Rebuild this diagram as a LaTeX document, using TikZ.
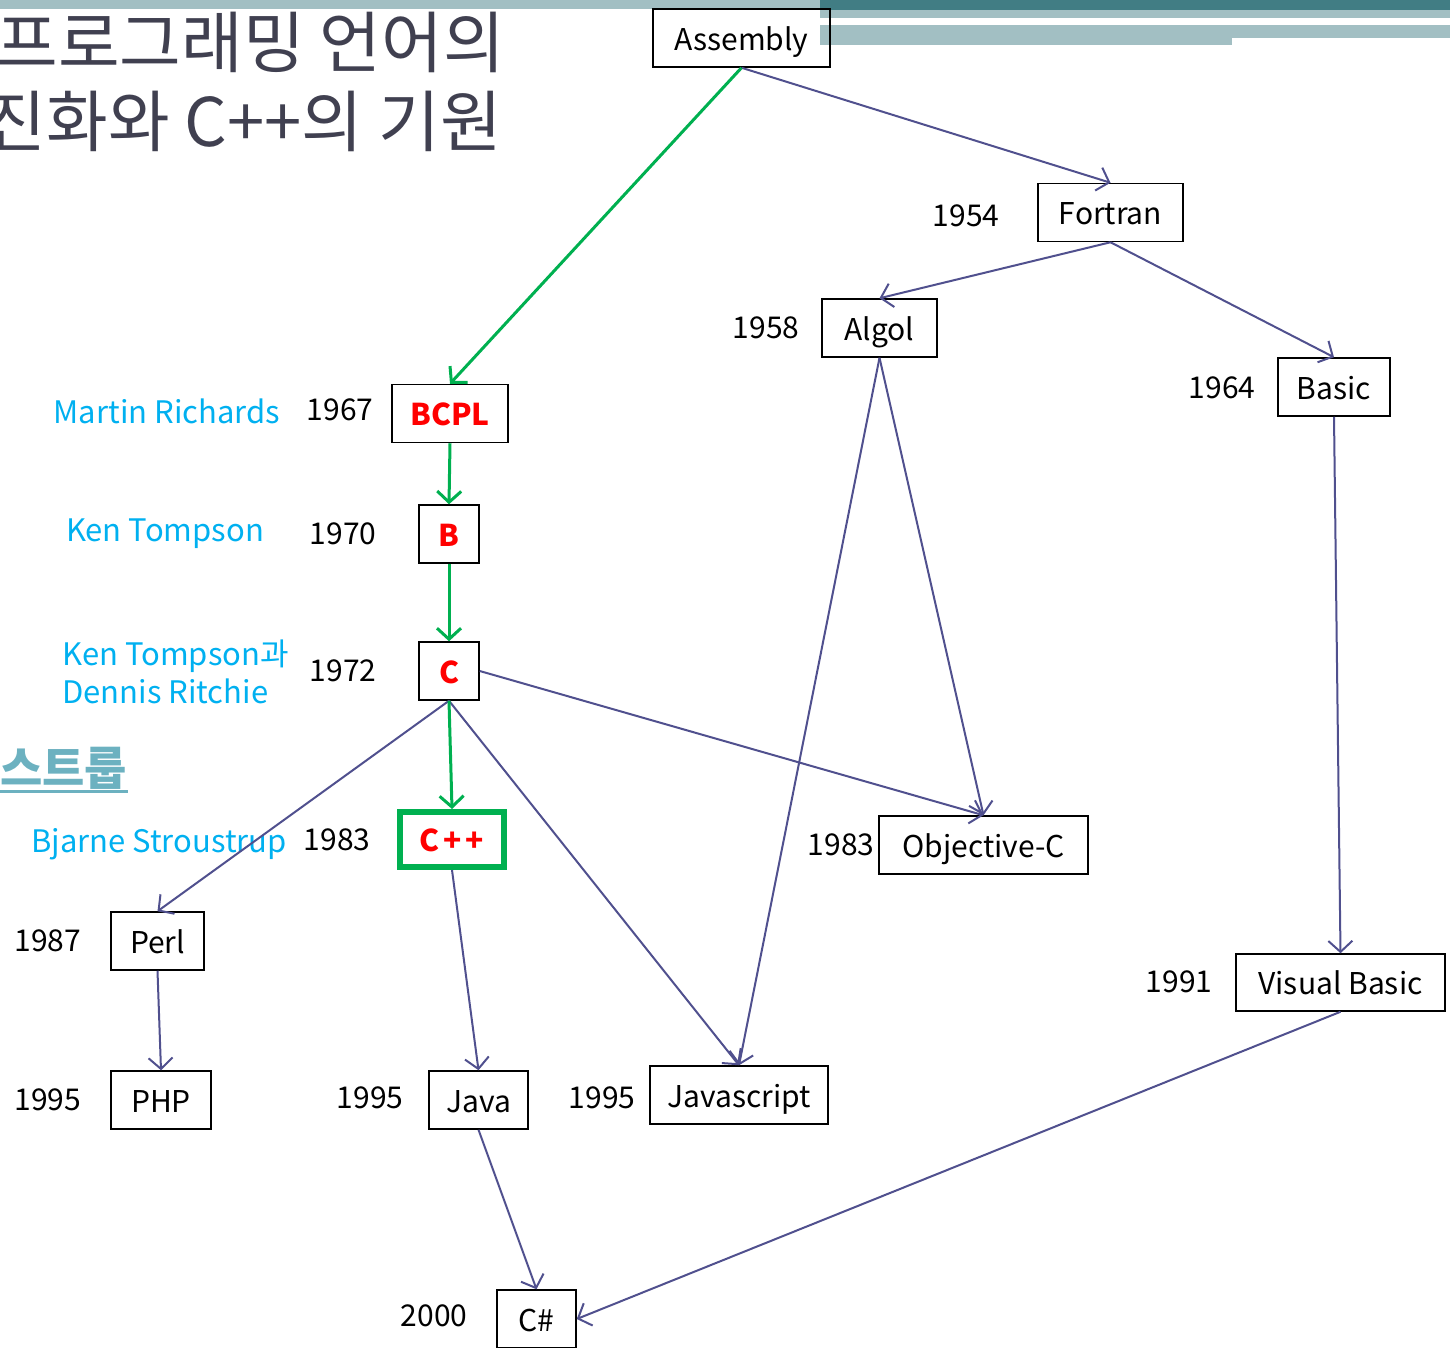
\documentclass[tikz,border=0pt]{standalone}
\usepackage{fontspec}
\setmainfont{Noto Sans CJK KR}
\usetikzlibrary{arrows.meta}
\definecolor{edgeblue}{RGB}{80,80,142}
\definecolor{grn}{RGB}{0,176,80}
\definecolor{cyn}{RGB}{0,176,240}
\definecolor{titlec}{RGB}{64,64,80}
\definecolor{barlight}{RGB}{162,191,195}
\definecolor{bardark}{RGB}{65,125,132}
\definecolor{strup}{RGB}{108,177,192}
\begin{document}
\begin{tikzpicture}[x=1pt,y=-1pt,
 box/.style={draw=black,line width=1.5pt,inner sep=0pt,minimum height=58pt,font=\fontsize{30}{32}\selectfont,text height=24pt,text depth=0pt},
 yr/.style={inner sep=0pt,font=\fontsize{30}{32}\selectfont},
 nm/.style={inner sep=0pt,text=cyn,font=\fontsize{31}{33}\selectfont},
 hot/.style={text=red,font=\fontsize{30}{32}\selectfont\bfseries},
 e/.style={draw=edgeblue,line width=2pt,-{Straight Barb[length=11pt,width=24pt]}},
 g/.style={draw=grn,line width=3pt,-{Straight Barb[length=11pt,width=24pt]}}]
\clip (0,0) rectangle (1450,1347);
\useasboundingbox (0,0) rectangle (1450,1347);
% bars
\fill[barlight] (0,0) rectangle (820,9);
\fill[bardark] (820,0) rectangle (1450,10);
\fill[barlight] (820,10) rectangle (1450,18);
\fill[barlight] (820,25) rectangle (1232,45);
\fill[barlight] (1232,25) rectangle (1450,38);
% title
\node[anchor=base east,inner sep=0pt,text=titlec,font=\fontsize{67}{69}\selectfont] (t1) at (505,67) {프로그래밍 언어의};
\node[anchor=base east,inner sep=0pt,text=titlec,font=\fontsize{67}{69}\selectfont] (t2) at (502,146) {진화와 C++의 기원};
% strup
\node[anchor=base west,inner sep=0pt,text=strup,font=\fontsize{46}{48}\selectfont\bfseries] (st) at (0,785) {스트룹};
\draw[strup,line width=3pt] (0,791) -- (128,791);
% boxes
\node[box,minimum width=177pt] (asm) at (741.5,38) {Assembly};
\node[box,minimum width=145pt] (fort) at (1110.5,212.5) {Fortran};
\node[box,minimum width=115pt] (algol) at (879.5,328) {Algol};
\node[box,minimum width=112pt] (basic) at (1334,387) {Basic};
\node[box,minimum width=116pt,hot] (bcpl) at (450,413.5) {BCPL};
\node[box,minimum width=60pt,hot] (b) at (449,534) {B};
\node[box,minimum width=60pt,hot] (c) at (449,671) {C};
\node[box,draw=grn,line width=6pt,minimum width=104pt,minimum height=55pt,hot] (cpp) at (452,839.5) {C\kern4pt+\kern4pt+};
\node[box,minimum width=209pt] (objc) at (983.5,845) {Objective-C};
\node[box,minimum width=93pt] (perl) at (157.5,941) {Perl};
\node[box,minimum width=209pt,minimum height=57pt] (vb) at (1340.5,982.5) {Visual Basic};
\node[box,minimum width=100pt] (php) at (161,1100) {PHP};
\node[box,minimum width=99pt] (java) at (478.5,1100) {Java};
\node[box,minimum width=178pt] (js) at (739,1095) {Javascript};
\node[box,minimum width=79pt] (cs) at (536.5,1319) {C\#};
% years
\node[yr] (y1) at (966,216) {1954};
\node[yr] (y2) at (766,328) {1958};
\node[yr] (y3) at (1222,388) {1964};
\node[yr] (y4) at (340,410) {1967};
\node[yr] (y5) at (343,534) {1970};
\node[yr] (y6) at (343,671) {1972};
\node[yr] (y7) at (337,840) {1983};
\node[yr] (y8) at (841,845) {1983};
\node[yr] (y9) at (48,941) {1987};
\node[yr] (y10) at (1179,982) {1991};
\node[yr] (y11) at (48,1100) {1995};
\node[yr] (y12) at (370,1098) {1995};
\node[yr] (y13) at (602,1098) {1995};
\node[yr] (y14) at (434,1316) {2000};
% names
\node[nm] (n1) at (167,411) {Martin Richards};
\node[nm] (n2) at (165,534) {Ken Tompson};
\node[nm,anchor=west,align=left] (n3) at (62,672) {Ken Tompson과\\[5pt]Dennis Ritchie};
\node[nm] (n4) at (159,844) {Bjarne Stroustrup};
% edges
\draw[e] (asm.south) -- (fort.north);
\draw[e] (fort.south) -- (algol.north);
\draw[e] (fort.south) -- (basic.north);
\draw[e] (algol.south) -- (objc.north);
\draw[e] (algol.south) -- (js.north);
\draw[e] (basic.south) -- (vb.north);
\draw[e] (c.east) -- (objc.north);
\draw[e] (c.south) -- (perl.north);
\draw[e] (c.south) -- (js.north);
\draw[e] (cpp.south) -- (java.north);
\draw[e] (perl.south) -- (php.north);
\draw[e] (java.south) -- (cs.north);
\draw[e] (vb.south) -- (cs.east);
\draw[g] (asm.south) -- (bcpl.north);
\draw[g] (bcpl.south) -- (b.north);
\draw[g] (b.south) -- (c.north);
\draw[g] (c.south) -- (cpp.north);
\end{tikzpicture}
\end{document}
